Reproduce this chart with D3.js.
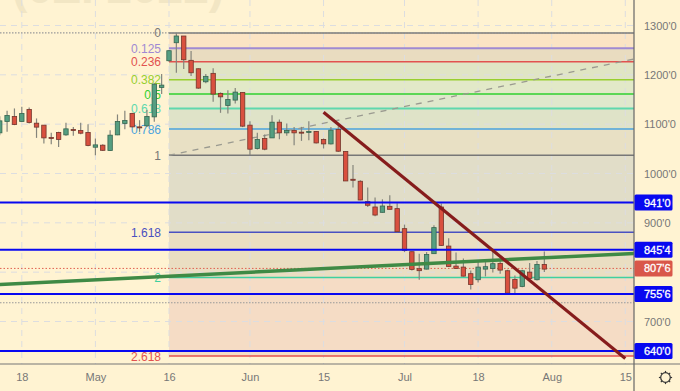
<!DOCTYPE html>
<html>
<head>
<meta charset="utf-8">
<script src="https://cdn.jsdelivr.net/npm/d3@7"></script>
<style>
  html, body { margin: 0; padding: 0; background: #fff3d2; }
  svg { display: block; }
  text { font-family: "Liberation Sans", Arial, sans-serif; }
</style>
</head>
<body>
<svg id="chart" width="680" height="391"></svg>
<script>
//--- candle values, first candle is 23 sessions before May 16, one entry per session
var firstSession = -23;
var opens  = [1082.4,1105.5,1115.6,1105.5,1129.9,1102,1098,1073,1083.2,1078.3,1089.2,1087.2,1083.2,1053.3,1057.4,1046.6,1078.3,1101.4,1121.7,1094.5,1096.6,1114.8,1174.5,
  1228.6,1265.1,1278.7,1229.4,1212.3,1185.9,1203,1162.4,1138,1148.8,1164.4,1098,1050.7,1071,1072.2,1104,1082.4,1087.2,1083.8,1083.8,1085.2,1069,1060,1089.2,
  1044.6,988.3,984.3,943,932.1,921.3,933.5,928.8,888.2,841.5,807,806.2,837.5,932.1,852.9,812.3,810.3,796.9,784.7,806.2,807.6,817.8,802.9,785.3,771.1,800.1,784.7,815.7];
var highs  = [1116.3,1127,1131.9,1135.1,1134,1111.6,1098,1082.4,1084.4,1102.7,1094.5,1102.7,1100,1071,1059.4,1087.8,1119.7,1127,1123,1108.1,1128.5,1182.7,1201.5,
  1250.3,1285.4,1278.7,1248.2,1213.1,1201.5,1213.1,1164.4,1169,1173.1,1165,1106.1,1082.4,1079.1,1118.3,1109.6,1101.4,1094.5,1094.5,1106.1,1086.4,1071,1094.5,1096,
  1044.6,1017.4,986.3,971.5,951.2,947.7,955.9,939.6,896.4,842.1,837.5,840.7,895,939,868.5,840.1,827.9,803.6,822.5,820.4,842.8,827.3,805,793.4,805,818.4,822.5,842.1];
var lows   = [1077.7,1084.4,1098,1104.7,1101.4,1072.2,1060.8,1059.4,1053.9,1076.3,1076.3,1079.7,1055.3,1037,1045.8,1045.8,1077.7,1089.9,1093.3,1084.4,1094.5,1104.7,1160.9,
  1226.5,1204.2,1211.7,1197.5,1171.7,1182.7,1145.3,1123,1121.7,1142,1094,1037,1048.6,1047.2,1072.2,1069.6,1076.3,1057.4,1066.1,1067.5,1060.8,1050.7,1058.8,1043.8,
  984.9,971.5,945.7,932.1,913.2,920.7,926.8,880.7,840.7,803.6,784.7,805.6,837.5,852.9,810.3,806.2,791.4,765,779.2,791.4,799.5,796.9,756.3,756.3,769.6,785.9,783.2,800.1];
var closes = [1106.7,1117.7,1099.4,1121.7,1103.5,1094,1072.2,1071,1069,1090.5,1087.8,1081.7,1056.8,1058,1047,1077.7,1105.5,1107.5,1094.5,1092.5,1115.6,1181.2,1179.2,
  1248.9,1278.7,1230.6,1204.2,1173.1,1196.9,1161,1155.4,1150.2,1165,1096,1049.3,1069,1049.3,1104,1082.4,1087.2,1082.4,1082.4,1085.2,1062,1060,1087.8,1045.2,
  984.9,986.9,946.3,935.6,915.8,934.1,927.4,882.1,844.2,805.6,803,836,890.3,854.3,811.7,807.6,792,775.1,810.3,811.1,817.2,804.2,757.5,767.6,802.9,787.3,815.7,806.2];

//--- time axis labels, given as sessions from May 16
var timeTicks  = [-20,-10,0,11,21,32,42,52,62];
var timeLabels = ["18","May","16","Jun","15","Jul","18","Aug","15"];

var priceTicks = [700,900,1000,1100,1200,1300];

//--- fibonacci levels
var fibNames  = ["0","0.125","0.236","0.382","0.5","0.618","0.786","1","1.618","2","2.618"];
var fibPrices = [1285,1254,1226.5,1190,1161,1132,1090,1037,881,789,630];
var fibColors = ["#777777","#a08ad2","#e2524f","#98cf2f","#2fd02f","#5ed8ad","#4aa3de","#777777","#4a50c0","#3fd0a0","#e2524f"];
var fibFills  = ["#fbe4c4","#e9dcc0","#e0e5c4","#e2e9c8","#dfe8cc","#dfe3c8","#e8e0c4","#e1ddc8","#eadec2","#f5dcc5"];

//--- horizontal levels with a tag on the price scale
var levelPrices = [941,845.4,755.6,640];
var levelLabels = ["941'0","845'4","755'6","640'0"];
var lastPrice = 807.6;
var lastLabel = "807'6";
var dottedPrice = 738;

//--- trend lines as [session, price]
var maroonTrend = [[21,1124],[62,625]];
var greenTrend  = [[-23,775],[63.2,838]];
var dashTrend   = [[0,1037],[63.2,1232]];

var plotW = 634, plotH = 364;
var svg = d3.select("#chart");

var x = d3.scaleLinear().domain([0,62]).range([169,625.3]);
var y = d3.scaleLinear().domain([700,1300]).range([321.5,25.5]);

svg.append("defs").append("clipPath").attr("id","plot")
  .append("rect").attr("width",plotW).attr("height",plotH);

var root = svg.append("g").attr("clip-path","url(#plot)");

//--- watermark, only the bottom of it is on screen
root.append("text")
  .attr("x",118).attr("y",3)
  .attr("text-anchor","middle")
  .attr("font-size",46)
  .attr("font-weight","bold")
  .attr("fill","#f2e6c4")
  .text("(0Z. 2022)");

//--- fib bands
root.append("g").selectAll("rect").data(fibFills).enter().append("rect")
  .attr("x",x(0)).attr("width",plotW-x(0))
  .attr("y",function(d,i){return y(fibPrices[i])})
  .attr("height",function(d,i){return y(fibPrices[i+1])-y(fibPrices[i])})
  .attr("fill",function(d){return d});

//--- grid
var gridColor = "#dcdde0";
root.append("g").selectAll("line").data(timeTicks).enter().append("line")
  .attr("x1",function(d){return x(d)}).attr("x2",function(d){return x(d)})
  .attr("y1",0).attr("y2",plotH)
  .attr("stroke",gridColor).attr("stroke-dasharray","6,5");
root.append("g").selectAll("line").data(d3.range(700,1400,100)).enter().append("line")
  .attr("x1",0).attr("x2",plotW)
  .attr("y1",function(d){return y(d)}).attr("y2",function(d){return y(d)})
  .attr("stroke",gridColor).attr("stroke-dasharray","6,5");

//--- fib lines and names
root.append("g").selectAll("line").data(fibPrices).enter().append("line")
  .attr("x1",x(0)).attr("x2",plotW)
  .attr("y1",function(d){return y(d)}).attr("y2",function(d){return y(d)})
  .attr("stroke",function(d,i){return fibColors[i]})
  .attr("stroke-width",function(d,i){return i==1||i==5 ? 2 : 1.5});
root.append("g").selectAll("text").data(fibPrices).enter().append("text")
  .attr("x",161).attr("y",function(d){return y(d)+4.5})
  .attr("text-anchor","end").attr("font-size",12)
  .attr("fill",function(d,i){return fibColors[i]})
  .text(function(d,i){return fibNames[i]});

//--- dotted lines
[fibPrices[0],dottedPrice].forEach(function(p){
  root.append("line").attr("x1",0).attr("x2",plotW).attr("y1",y(p)).attr("y2",y(p))
    .attr("stroke","#999").attr("stroke-width",1.2).attr("stroke-dasharray","1.5,1.5");
});
root.append("line").attr("x1",0).attr("x2",plotW).attr("y1",y(lastPrice)).attr("y2",y(lastPrice))
  .attr("stroke","#e0604f").attr("stroke-dasharray","1.5,2");

//--- dashed trend under the candles
var line = d3.line().x(function(d){return x(d[0])}).y(function(d){return y(d[1])});
root.append("path").attr("d",line(dashTrend)).attr("fill","none")
  .attr("stroke","#9a9a90").attr("stroke-width",1.3).attr("stroke-dasharray","6,6");

//--- candles
var candles = root.append("g").selectAll("g").data(opens).enter().append("g");
candles.append("line")
  .attr("x1",function(d,i){return x(firstSession+i)}).attr("x2",function(d,i){return x(firstSession+i)})
  .attr("y1",function(d,i){return y(highs[i])}).attr("y2",function(d,i){return y(lows[i])})
  .attr("stroke","#85857c").attr("stroke-width",1.2);
candles.append("rect")
  .attr("x",function(d,i){return x(firstSession+i)-2.2}).attr("width",4.4)
  .attr("y",function(d,i){return y(Math.max(opens[i],closes[i]))})
  .attr("height",function(d,i){return Math.max(1,Math.abs(y(opens[i])-y(closes[i])))})
  .attr("fill",function(d,i){return closes[i]>=opens[i] ? "#559e81" : "#d9503f"})
  .attr("stroke",function(d,i){return closes[i]>=opens[i] ? "#35654f" : "#74352b"})
  .attr("stroke-width",0.8);

//--- blue levels
root.append("g").selectAll("line").data(levelPrices).enter().append("line")
  .attr("x1",0).attr("x2",plotW)
  .attr("y1",function(d){return y(d)}).attr("y2",function(d){return y(d)})
  .attr("stroke","#0808f0").attr("stroke-width",2);

//--- trend lines
root.append("path").attr("d",line(greenTrend)).attr("fill","none")
  .attr("stroke","#3f8a45").attr("stroke-width",3.5);
root.append("path").attr("d",line(maroonTrend)).attr("fill","none")
  .attr("stroke","#861c1c").attr("stroke-width",3.2);

//--- price scale
svg.append("g").attr("transform","translate("+plotW+",0)")
  .call(d3.axisRight(y).tickValues(priceTicks).tickSize(0).tickPadding(10)
    .tickFormat(function(d){return d+"'0"}))
  .call(function(g){
    g.select(".domain").remove();
    g.selectAll("text").attr("font-size",11).attr("fill","#777").style("font-family",null);
  });

//--- time scale
svg.append("g").attr("transform","translate(0,"+plotH+")")
  .call(d3.axisBottom(x).tickValues(timeTicks).tickSize(0).tickPadding(9.5)
    .tickFormat(function(d,i){return timeLabels[i]}))
  .call(function(g){
    g.select(".domain").remove();
    g.selectAll("text").attr("font-size",11).attr("fill","#777").style("font-family",null);
  });

svg.append("line").attr("x1",0).attr("x2",680).attr("y1",plotH).attr("y2",plotH)
  .attr("stroke","#777").attr("stroke-width",1.2);
svg.append("line").attr("x1",plotW).attr("x2",plotW).attr("y1",0).attr("y2",391)
  .attr("stroke","#666").attr("stroke-width",1.2);

//--- price tags
function priceTag(p,label,color){
  var g = svg.append("g").attr("transform","translate("+(plotW+0.5)+","+y(p)+")");
  g.append("rect").attr("x",0).attr("y",-8).attr("width",38).attr("height",16).attr("rx",1.5).attr("fill",color);
  g.append("text").attr("x",9.5).attr("y",4).attr("font-size",11).attr("fill","#fff")
    .attr("stroke","#fff").attr("stroke-width",0.3).text(label);
}
levelPrices.forEach(function(p,i){ priceTag(p,levelLabels[i],"#0808f0"); });
priceTag(lastPrice,lastLabel,"#d9574a");

//--- settings gear
var gear = svg.append("g").attr("transform","translate(665.5,377.5)");
gear.append("circle").attr("r",4.8).attr("fill","none").attr("stroke","#333").attr("stroke-width",1.2);
d3.range(8).forEach(function(k){
  var a = k*Math.PI/4;
  gear.append("line")
    .attr("x1",4.8*Math.cos(a)).attr("y1",4.8*Math.sin(a))
    .attr("x2",6.6*Math.cos(a)).attr("y2",6.6*Math.sin(a))
    .attr("stroke","#333").attr("stroke-width",1.2);
});
</script>
</body>
</html>
